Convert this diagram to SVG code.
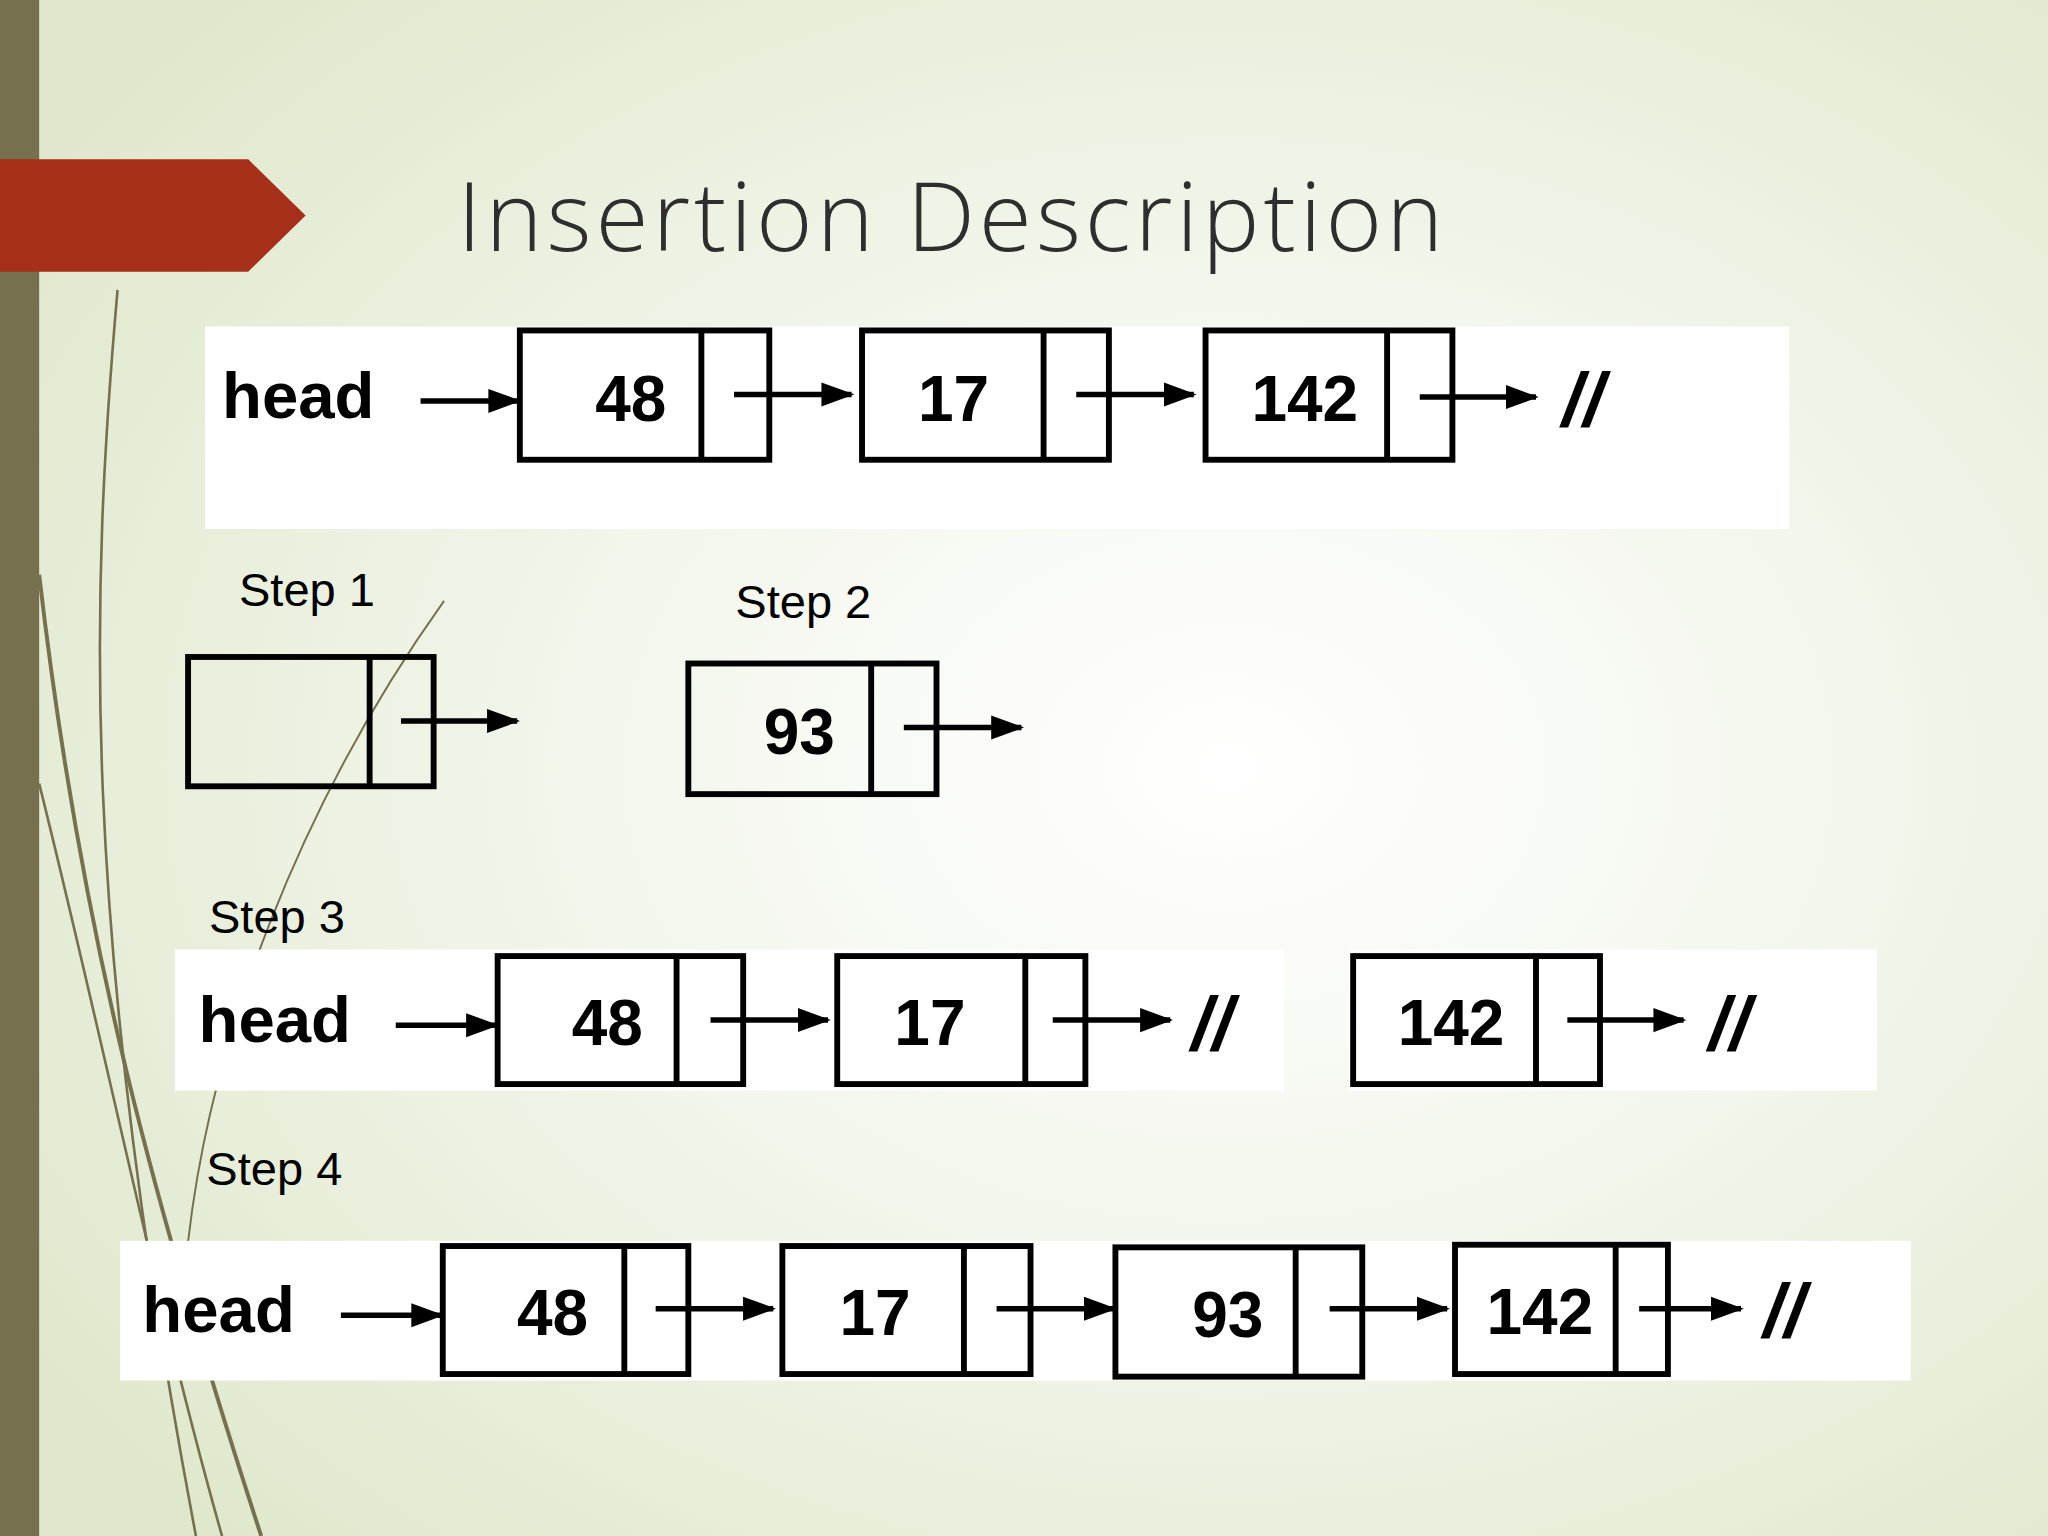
<svg xmlns="http://www.w3.org/2000/svg" width="2048" height="1536" viewBox="0 0 2048 1536">
<defs>
<radialGradient id="bg" cx="0.6" cy="0.5" r="0.7">
<stop offset="0" stop-color="#ffffff"/><stop offset="0.45" stop-color="#f3f6ec"/><stop offset="1" stop-color="#dfe8cc"/>
</radialGradient>
<marker id="ah" markerWidth="6" markerHeight="6" refX="5.5" refY="3" orient="auto" markerUnits="strokeWidth">
<path d="M0,0.8 L6,3 L0,5.2 Z" fill="#000"/>
</marker>
<style>
.box{fill:none;stroke:#000;stroke-width:4.5}
.num{font-family:"Liberation Sans",Arial,sans-serif;font-weight:bold;font-size:49px;text-anchor:middle;fill:#000}
.head{font-family:"Liberation Sans",Arial,sans-serif;font-weight:bold;font-size:50px;fill:#000}
.step{font-family:"Liberation Sans",Arial,sans-serif;font-size:36px;fill:#000}
.nul{font-family:"Liberation Sans",Arial,sans-serif;font-weight:bold;font-style:italic;font-size:58px;fill:#000}
.ptr{stroke:#000;stroke-width:4.2;fill:none;marker-end:url(#ah)}
.panel{fill:#fff}
</style>
</defs>
<rect width="2048" height="1536" fill="url(#bg)"/>
<g transform="scale(1.30612)">
<g id="decor" fill="none" stroke="#76704f">
<path d="M90,222 C70,450 60,700 150,1176" stroke-width="2"/>
<path d="M30,440 C60,700 110,900 200,1176" stroke-width="3"/>
<path d="M340,460 C240,600 150,800 140,1000" stroke-width="1.5"/>
<path d="M30,600 C80,800 120,1000 170,1176" stroke-width="2"/>
</g>
<rect x="0" y="0" width="30" height="1176" fill="#76704f"/>
<path d="M0,122 L190,122 L234,165 L190,208 L0,208 Z" fill="#a52f18"/>
<text x="350" y="192" font-family="'Open Sans',Lato,sans-serif" font-weight="300" font-size="74" fill="#2e2e2e" textLength="755">Insertion Description</text>

<rect class="panel" x="157" y="250" width="1213" height="155"/>
<rect class="panel" x="134" y="727" width="849" height="108"/>
<rect class="panel" x="1033" y="727" width="404" height="108"/>
<rect class="panel" x="92" y="950" width="1371" height="107"/>

<g id="labels">
<text class="head" x="170" y="320">head</text>
<text class="step" x="183" y="464">Step 1</text>
<text class="step" x="563" y="473">Step 2</text>
<text class="step" x="160" y="714">Step 3</text>
<text class="head" x="152" y="798">head</text>
<text class="step" x="158" y="907">Step 4</text>
<text class="head" x="109" y="1020">head</text>
<text class="nul" x="1196" y="326">//</text>
<text class="nul" x="912" y="804">//</text>
<text class="nul" x="1308" y="804">//</text>
<text class="nul" x="1350" y="1024">//</text>
</g>

<g id="r1n48"><rect class="box" x="398" y="253" width="191" height="99"/><line class="box" x1="537" y1="253" x2="537" y2="352"/><text class="num" x="483" y="322">48</text></g>
<g id="r1n17"><rect class="box" x="660" y="253" width="189" height="99"/><line class="box" x1="799" y1="253" x2="799" y2="352"/><text class="num" x="730" y="322">17</text></g>
<g id="r1n142"><rect class="box" x="923" y="253" width="189" height="99"/><line class="box" x1="1062" y1="253" x2="1062" y2="352"/><text class="num" x="999" y="322">142</text></g>

<g id="s1node"><rect class="box" x="144" y="503" width="188" height="99"/><line class="box" x1="283" y1="503" x2="283" y2="602"/></g>
<g id="s2n93"><rect class="box" x="527" y="508" width="190" height="100"/><line class="box" x1="667" y1="508" x2="667" y2="608"/><text class="num" x="612" y="577">93</text></g>

<g id="r3n48"><rect class="box" x="381" y="732" width="188" height="98"/><line class="box" x1="518" y1="732" x2="518" y2="830"/><text class="num" x="465" y="800">48</text></g>
<g id="r3n17"><rect class="box" x="641" y="732" width="190" height="98"/><line class="box" x1="785" y1="732" x2="785" y2="830"/><text class="num" x="712" y="800">17</text></g>
<g id="r3n142"><rect class="box" x="1036" y="732" width="189" height="98"/><line class="box" x1="1176" y1="732" x2="1176" y2="830"/><text class="num" x="1111" y="800">142</text></g>

<g id="r4n48"><rect class="box" x="339" y="954" width="188" height="98"/><line class="box" x1="478" y1="954" x2="478" y2="1052"/><text class="num" x="423" y="1022">48</text></g>
<g id="r4n17"><rect class="box" x="599" y="954" width="190" height="98"/><line class="box" x1="738" y1="954" x2="738" y2="1052"/><text class="num" x="670" y="1022">17</text></g>
<g id="r4n93"><rect class="box" x="854" y="955" width="189" height="99"/><line class="box" x1="992" y1="955" x2="992" y2="1054"/><text class="num" x="940" y="1024">93</text></g>
<g id="r4n142"><rect class="box" x="1114" y="953" width="163" height="99"/><line class="box" x1="1237" y1="953" x2="1237" y2="1052"/><text class="num" x="1179" y="1021">142</text></g>

<g id="connectors">
<line class="ptr" x1="322" y1="307" x2="397" y2="307"/>
<line class="ptr" x1="562" y1="302" x2="652" y2="302"/>
<line class="ptr" x1="824" y1="302" x2="914" y2="302"/>
<line class="ptr" x1="1087" y1="304" x2="1176" y2="304"/>
<line class="ptr" x1="307" y1="552" x2="396" y2="552"/>
<line class="ptr" x1="692" y1="557" x2="782" y2="557"/>
<line class="ptr" x1="303" y1="785" x2="380" y2="785"/>
<line class="ptr" x1="544" y1="781" x2="634" y2="781"/>
<line class="ptr" x1="806" y1="781" x2="896" y2="781"/>
<line class="ptr" x1="1200" y1="781" x2="1289" y2="781"/>
<line class="ptr" x1="261" y1="1007" x2="338" y2="1007"/>
<line class="ptr" x1="502" y1="1002" x2="592" y2="1002"/>
<line class="ptr" x1="763" y1="1002" x2="853" y2="1002"/>
<line class="ptr" x1="1018" y1="1002" x2="1108" y2="1002"/>
<line class="ptr" x1="1255" y1="1002" x2="1333" y2="1002"/>
</g>
</g>
</svg>
